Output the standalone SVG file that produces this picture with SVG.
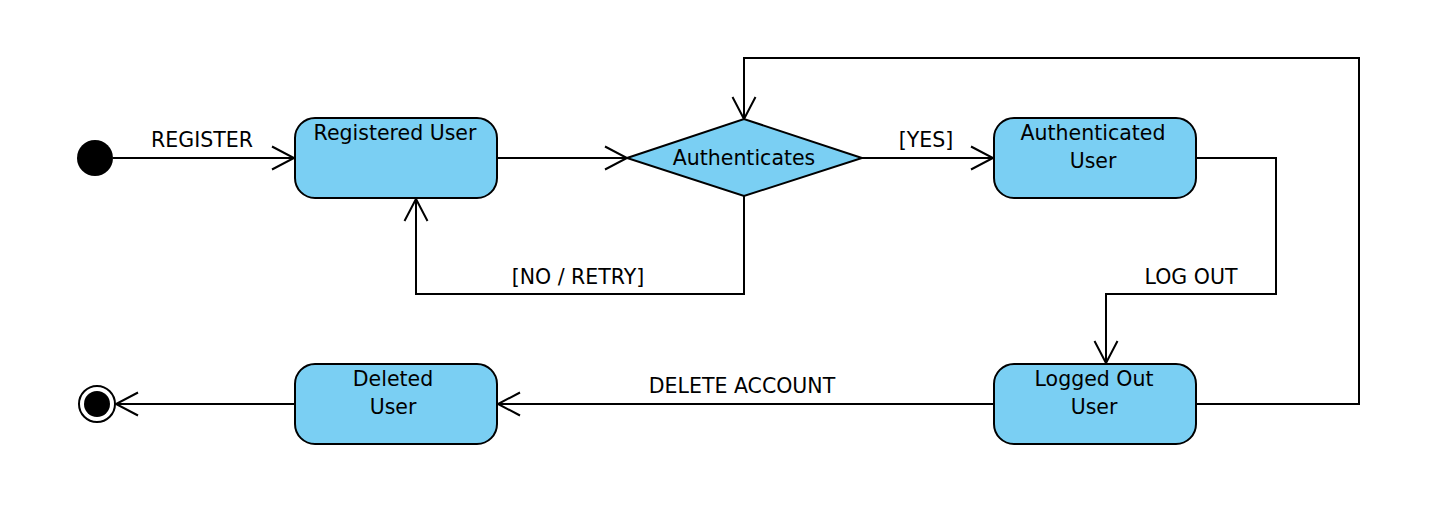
<svg xmlns="http://www.w3.org/2000/svg" width="1448" height="522" viewBox="0 0 1448 522">
<style>
.st{fill:#7acff3;stroke:#000;stroke-width:2}
.t{font-family:"DejaVu Sans",sans-serif;font-size:20.5px;fill:#000;text-anchor:middle}
.c{fill:none;stroke:#000;stroke-width:2}
</style>
<defs>
<marker id="ah" markerWidth="26" markerHeight="26" refX="23" refY="13" orient="auto" markerUnits="userSpaceOnUse">
<path d="M1,1.5 L23,13 L1,24.5" fill="none" stroke="#000" stroke-width="2"/>
</marker>
</defs>
<rect width="1448" height="522" fill="#fff"/>
<g id="connectors">
<line class="c" x1="113" y1="158" x2="294" y2="158" marker-end="url(#ah)"/>
<line class="c" x1="497" y1="158" x2="627" y2="158" marker-end="url(#ah)"/>
<line class="c" x1="862" y1="158" x2="993" y2="158" marker-end="url(#ah)"/>
<polyline class="c" points="744,196 744,294 416,294 416,199" marker-end="url(#ah)"/>
<polyline class="c" points="1196,158 1276,158 1276,294 1106,294 1106,363" marker-end="url(#ah)"/>
<polyline class="c" points="1196,404 1359,404 1359,58 744,58 744,119" marker-end="url(#ah)"/>
<line class="c" x1="994" y1="404" x2="498" y2="404" marker-end="url(#ah)"/>
<line class="c" x1="295" y1="404" x2="116" y2="404" marker-end="url(#ah)"/>
<text class="t" x="202" y="147">REGISTER</text>
<text class="t" x="926" y="147">[YES]</text>
<text class="t" x="578" y="284">[NO / RETRY]</text>
<text class="t" x="1191" y="284">LOG OUT</text>
<text class="t" x="742" y="393">DELETE ACCOUNT</text>
</g>
<g id="initial"><circle cx="95" cy="158" r="18" fill="#000"/></g>
<g id="registered"><rect class="st" x="295" y="118" width="202" height="80" rx="20"/><text class="t" x="395" y="140">Registered User</text></g>
<g id="authenticates"><polygon class="st" points="627,158 744,119 862,158 744,196"/><text class="t" x="744" y="165">Authenticates</text></g>
<g id="authenticated"><rect class="st" x="994" y="118" width="202" height="80" rx="20"/><text class="t" x="1093" y="140">Authenticated</text><text class="t" x="1093" y="168">User</text></g>
<g id="loggedout"><rect class="st" x="994" y="364" width="202" height="80" rx="20"/><text class="t" x="1094" y="386">Logged Out</text><text class="t" x="1094" y="414">User</text></g>
<g id="deleted"><rect class="st" x="295" y="364" width="202" height="80" rx="20"/><text class="t" x="393" y="386">Deleted</text><text class="t" x="393" y="414">User</text></g>
<g id="final"><circle cx="97" cy="404" r="18" fill="#fff" stroke="#000" stroke-width="2"/><circle cx="97" cy="404" r="13" fill="#000"/></g>
</svg>
